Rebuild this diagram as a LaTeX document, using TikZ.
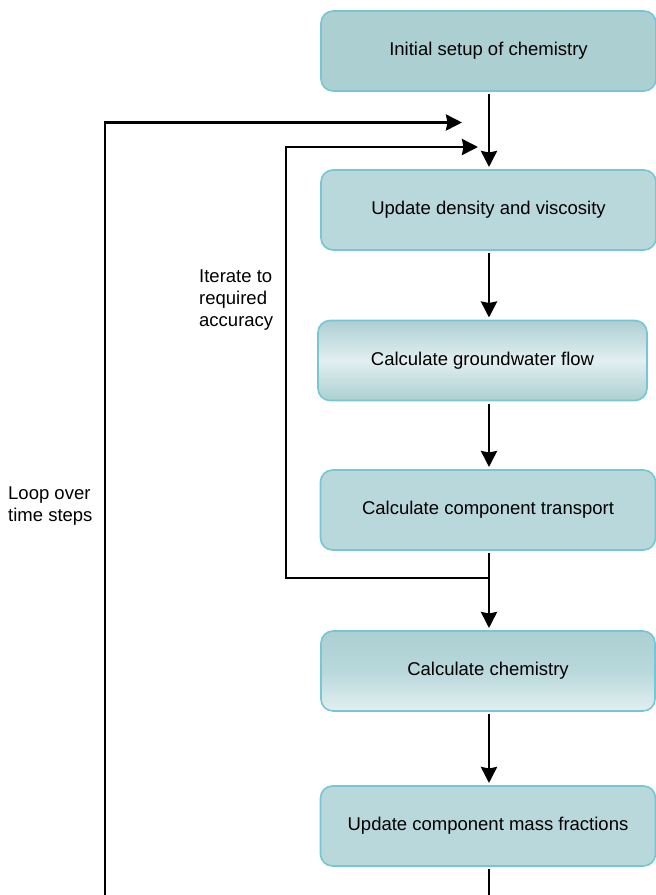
\documentclass[tikz,border=0pt]{standalone}
\usepackage{fontspec}
\setmainfont{Liberation Sans}
\usetikzlibrary{arrows.meta}
\definecolor{boxline}{RGB}{118,198,212}
\definecolor{boxfill}{RGB}{185,216,219}
\definecolor{boxdark}{RGB}{172,207,210}
\definecolor{boxlight}{RGB}{226,239,241}
\begin{document}
\begin{tikzpicture}[x=1pt, y=-1pt, >={Stealth[length=16pt, width=16pt, inset=1.5pt]},
  stage/.style={draw=boxline, line width=1.6pt, rounded corners=12pt, fill=boxfill,
    minimum width=335pt, minimum height=80pt, outer sep=3pt,
    font=\fontsize{18.5}{22}\selectfont},
  note/.style={align=left, anchor=north west, inner sep=0pt,
    font=\fontsize{18.5}{22}\selectfont},
  flow/.style={line width=2.8pt}]
\useasboundingbox (0,0) rectangle (656,895);
\node [stage, fill=boxdark] (setup) at (488.5,51) {Initial setup of chemistry};
\node [stage] (density) at (488.5,210) {Update density and viscosity};
\node [stage, minimum width=329pt, top color=boxdark, bottom color=boxdark,
  middle color=boxlight] (ground) at (482.5,360.5) {Calculate groundwater flow};
\node [stage] (transport) at (488,510) {Calculate component transport};
\node [stage, minimum width=334pt, top color=boxdark, bottom color=boxlight,
  middle color=boxfill] (chem) at (488,671) {Calculate chemistry};
\node [stage] (mass) at (488,826) {Update component mass fractions};
\node [note] (iterate) at (199,270) {Iterate to\\required\\accuracy};
\node [note] (loop) at (8,487) {Loop over\\time steps};
% spine of the flow chart
\coordinate (spine) at (489,0);
\foreach \a/\b in {setup/density, density/ground, ground/transport,
                   transport/chem, chem/mass}
  \draw [flow, ->] (\a.south -| spine) -- (\b.north -| spine);
% inner loop
\coordinate (inner) at (286,578);
\coordinate (innerin) at (478,147);
\draw [flow, ->] (inner -| spine) -- (inner) |- (innerin);
% outer loop
\coordinate (outer) at (105,895);
\coordinate (outerin) at (462,122.5);
\draw [flow, ->] (outer) |- (outerin);
\draw [flow] (mass.south -| spine) -- (outer -| spine);
\end{tikzpicture}
\end{document}
